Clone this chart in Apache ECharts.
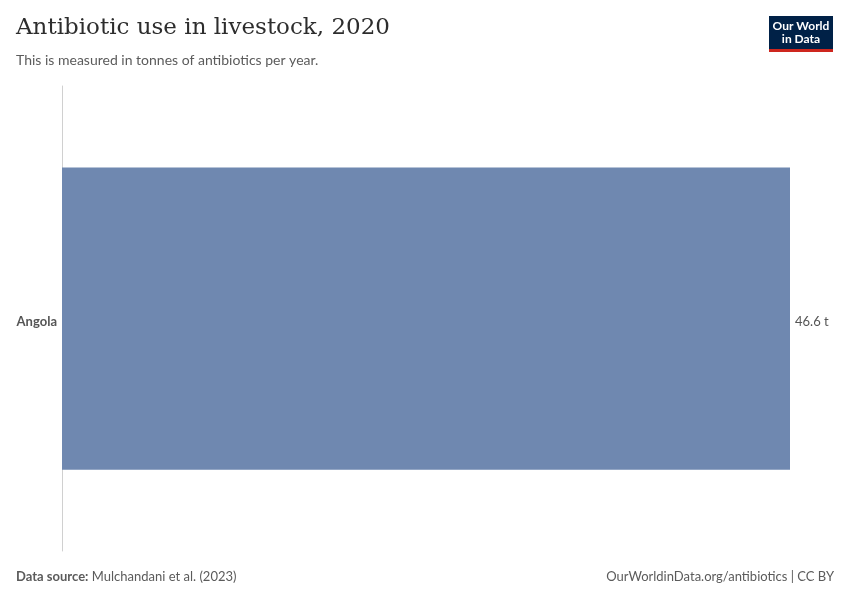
<!DOCTYPE html>
<html>
<head>
<meta charset="utf-8">
<script src="https://cdn.jsdelivr.net/npm/echarts@6/dist/echarts.min.js"></script>
<style>html,body{margin:0;padding:0;background:#fff}#c{width:850px;height:600px}</style>
</head>
<body>
<div id="c"></div>
<script>
const categories = ["Angola"];
const values = [46.6];
const unit = " t";

const chart = echarts.init(document.getElementById('c'), null, {renderer: 'canvas'});
chart.setOption({
  backgroundColor: '#ffffff',
  animation: false,
  grid: {left: 62, right: 60, top: 86, bottom: 49, containLabel: false},
  xAxis: {
    type: 'value', min: 0, max: values[0],
    show: false
  },
  yAxis: {
    type: 'category', data: categories, inverse: true,
    axisLine: {show: true, lineStyle: {color: '#d0d0d0', width: 1}},
    axisTick: {show: false},
    axisLabel: {margin: 5, formatter: v => '{a|' + v + '}',
      rich: {a: {fontFamily: 'Lato', fontWeight: 'bold', fontSize: 13, color: '#555555', padding: [6, 0, 0, 0]}}}
  },
  series: [{
    type: 'bar', data: values, barWidth: '65%',
    itemStyle: {color: '#6f88b0'},
    label: {show: true, position: 'right', distance: 5, offset: [0, 3], fontFamily: 'Lato', fontSize: 13, color: '#555555',
      formatter: p => p.value + unit}
  }],
  graphic: [
    {type: 'text', left: 16, top: 17, style: {text: 'Antibiotic use in livestock, 2020', font: '23px "DejaVu Serif", "Liberation Serif", serif', fill: '#2d2d2d'}},
    {type: 'text', left: 16, top: 53, style: {text: 'This is measured in tonnes of antibiotics per year.', font: '14px Lato, sans-serif', fill: '#5b5b5b'}},
    {type: 'rect', shape: {x: 769, y: 16, width: 64, height: 34}, style: {fill: '#002147'}},
    {type: 'rect', shape: {x: 769, y: 49, width: 64, height: 3}, style: {fill: '#ce261e'}},
    {type: 'text', x: 801, y: 26, style: {text: 'Our World', font: 'bold 12px Lato, sans-serif', fill: '#ffffff', align: 'center', verticalAlign: 'middle'}},
    {type: 'text', x: 801, y: 39, style: {text: 'in Data', font: 'bold 12px Lato, sans-serif', fill: '#ffffff', align: 'center', verticalAlign: 'middle'}},
    {type: 'text', left: 16, top: 570, style: {rich: {b: {fontFamily: 'Lato', fontWeight: 'bold', fontSize: 13, fill: '#5b5b5b'}, n: {fontFamily: 'Lato', fontSize: 13, fill: '#5b5b5b'}}, text: '{b|Data source:} {n|Mulchandani et al. (2023)}'}},
    {type: 'text', right: 16, top: 570, style: {text: 'OurWorldinData.org/antibiotics | CC BY', font: '13px Lato, sans-serif', fill: '#5b5b5b'}}
  ]
});
</script>
</body>
</html>
